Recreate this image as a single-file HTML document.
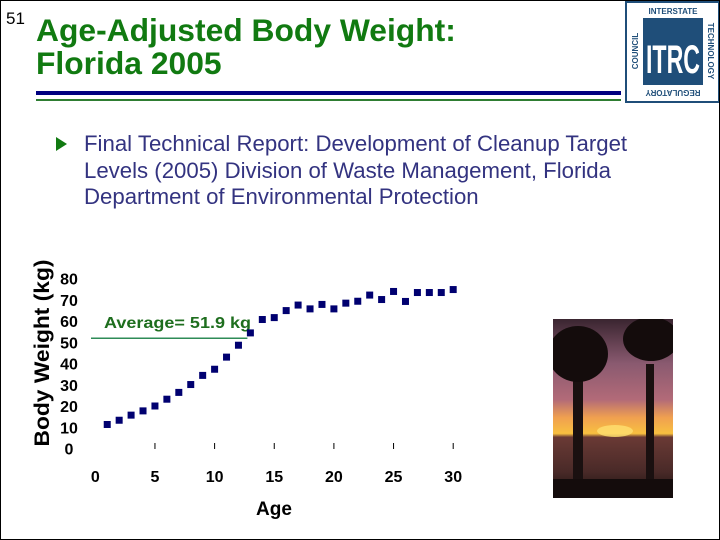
<!DOCTYPE html>
<html><head><meta charset="utf-8"><style>
body{margin:0;background:#fff}
#slide{position:relative;width:718px;height:538px;border:1px solid #000;overflow:hidden;font-family:"Liberation Sans",sans-serif;background:#fff}
.abs{position:absolute}
</style></head><body>
<div id="slide">
<div class="abs" style="left:5px;top:8px;font-size:17px">51</div>
<div class="abs" style="left:35px;top:13px;font-size:31.8px;font-weight:bold;color:#117a11;line-height:33px">Age-Adjusted Body Weight:<br>Florida 2005</div>
<div class="abs" style="left:35px;top:90px;width:585px;height:4px;background:#000080"></div>
<div class="abs" style="left:35px;top:98px;width:585px;height:2px;background:#2e7d32"></div>
<svg class="abs" style="left:624px;top:0" width="96" height="102" viewBox="0 0 96 102">
<rect x="1" y="1" width="93" height="100" fill="#fff" stroke="#1f4e79" stroke-width="2"/>
<rect x="18" y="17" width="60" height="67" fill="#1f4e79"/>
<text x="48" y="72" font-family="Liberation Sans" font-weight="bold" font-size="40" fill="#fff" text-anchor="middle" textLength="54" lengthAdjust="spacingAndGlyphs">ITRC</text>
<text x="48" y="13" font-family="Liberation Sans" font-weight="bold" font-size="8" fill="#1f4e79" text-anchor="middle">INTERSTATE</text>
<text x="48" y="95" font-family="Liberation Sans" font-weight="bold" font-size="8" fill="#1f4e79" text-anchor="middle" transform="rotate(180 48 92)">REGULATORY</text>
<text x="0" y="0" font-family="Liberation Sans" font-weight="bold" font-size="8" fill="#1f4e79" text-anchor="middle" transform="translate(13 50) rotate(-90)">COUNCIL</text>
<text x="0" y="0" font-family="Liberation Sans" font-weight="bold" font-size="8" fill="#1f4e79" text-anchor="middle" transform="translate(83 50) rotate(90)">TECHNOLOGY</text>
</svg>
<svg class="abs" style="left:55px;top:136px" width="12" height="14"><polygon points="0,0 11,7 0,14" fill="#117a11"/></svg>
<div class="abs" style="left:83px;top:130px;font-size:22.2px;line-height:26.5px;color:#333380;white-space:nowrap">Final Technical Report: Development of Cleanup Target<br>Levels (2005) Division of Waste Management, Florida<br>Department of Environmental Protection</div>
<svg class="abs" style="left:552px;top:318px" width="120" height="179">
<defs><linearGradient id="sky" x1="0" y1="0" x2="0" y2="1">
<stop offset="0" stop-color="#3a2530"/><stop offset="0.25" stop-color="#8a5a70"/><stop offset="0.45" stop-color="#b26a78"/><stop offset="0.55" stop-color="#f0a050"/><stop offset="0.64" stop-color="#f8c040"/><stop offset="0.66" stop-color="#6a3a35"/><stop offset="0.85" stop-color="#4a2a28"/><stop offset="1" stop-color="#1a1010"/></linearGradient></defs>
<rect width="120" height="179" fill="url(#sky)"/>
<ellipse cx="62" cy="112" rx="18" ry="6" fill="#ffe070" opacity="0.8"/>
<rect x="20" y="60" width="10" height="119" fill="#1a1010"/>
<rect x="93" y="45" width="8" height="134" fill="#1a1010"/>
<ellipse cx="25" cy="35" rx="30" ry="28" fill="#140c0c"/>
<ellipse cx="98" cy="20" rx="28" ry="22" fill="#140c0c"/>
<rect x="0" y="160" width="120" height="19" fill="#140c0c"/>
</svg>
<svg class="abs" id="chart" style="left:0;top:0" width="720" height="540"></svg>
</div>
<script>
const ages=[1,2,3,4,5,6,7,8,9,10,11,12,13,14,15,16,17,18,19,20,21,22,23,24,25,26,27,28,29,30];
const weights=[11.3,13.3,15.7,17.7,20,23.2,26.4,30.1,34.4,37.3,43,48.6,54.4,60.7,61.6,64.9,67.5,65.7,67.8,65.7,68.4,69.3,72.2,70.1,73.9,69.2,73.4,73.4,73.4,74.8];
const yTicks=[0,10,20,30,40,50,60,70,80];
const xTicks=[0,5,10,15,20,25,30];
const average=51.9;
const avgEndAge=13;
const NS='http://www.w3.org/2000/svg';
const svg=document.getElementById('chart');
function xs(v){return 94.3+v*11.93;}
function ys(v){return 447.5-v*2.125;}
function mk(t,a){const e=document.createElementNS(NS,t);for(const k in a)e.setAttribute(k,a[k]);svg.appendChild(e);return e;}
yTicks.forEach(v=>{
const t=mk('text',{x:68,y:ys(v)+6,'font-family':'Liberation Sans','font-size':16,'font-weight':'bold','text-anchor':'middle',fill:'#000'});
t.textContent=v;


});
xTicks.forEach(v=>{
if(v>0){const l=mk('line',{x1:xs(v),x2:xs(v),y1:442,y2:448,stroke:'#000','stroke-width':1});

}
const t=mk('text',{x:xs(v),y:481,'font-family':'Liberation Sans','font-size':16,'font-weight':'bold','text-anchor':'middle',fill:'#000'});
t.textContent=v;


});
const yt=mk('text',{x:0,y:0,transform:'translate(48 352) rotate(-90)','font-family':'Liberation Sans','font-size':21,'font-weight':'bold','text-anchor':'middle',fill:'#000',textLength:187,lengthAdjust:'spacingAndGlyphs'});
yt.textContent='Body Weight (kg)';


const xt=mk('text',{x:273,y:514,'font-family':'Liberation Sans','font-size':19,'font-weight':'bold','text-anchor':'middle',fill:'#000'});
xt.textContent='Age';


const al=mk('line',{x1:90,x2:xs(avgEndAge)-3,y1:ys(average),y2:ys(average),stroke:'#2e8b57','stroke-width':1.5});


const at=mk('text',{x:103,y:327,'font-family':'Liberation Sans','font-size':16,'font-weight':'bold',fill:'#1e6e1e',textLength:147,lengthAdjust:'spacingAndGlyphs'});
at.textContent='Average= 51.9 kg';


ages.forEach((a,i)=>{
const r=mk('rect',{x:xs(a)-3.5,y:ys(weights[i])-3.5,width:7,height:7,fill:'#000070'});


});
</script>
</body></html>
